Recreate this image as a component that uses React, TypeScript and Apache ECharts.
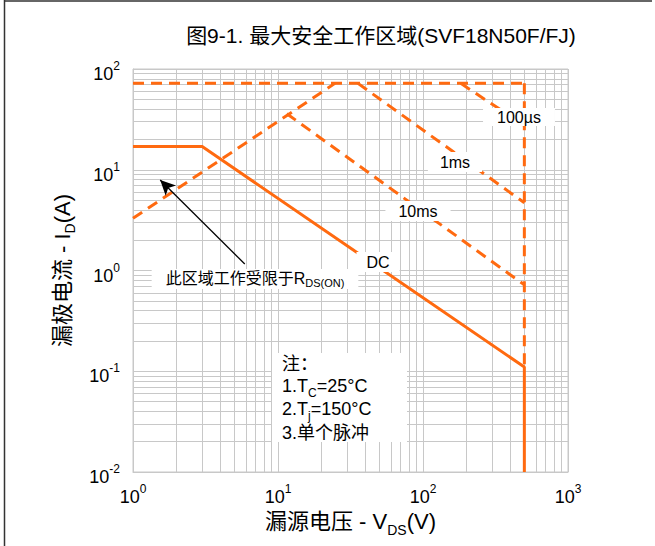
import React, { useEffect, useRef } from 'react';
import * as echarts from 'echarts';

// Minor grid positions (log scale 2..9 per decade)
const xMinorTicks = [2, 3, 4, 5, 6, 7, 8, 9, 20, 30, 40, 50, 60, 70, 80, 90, 200, 300, 400, 500, 600, 700, 800, 900];
const yMinorTicks = [
  0.02, 0.03, 0.04, 0.05, 0.06, 0.07, 0.08, 0.09,
  0.2, 0.3, 0.4, 0.5, 0.6, 0.7, 0.8, 0.9,
  2, 3, 4, 5, 6, 7, 8, 9,
  20, 30, 40, 50, 60, 70, 80, 90,
];

// Curves [Vds (V), Id (A)]
const dcLimit = [[1, 17], [3, 17], [500, 0.11], [500, 0.01]];
const vdsLimit = [[500, 72], [500, 0.11]];
const idmLimit = [[1, 72], [500, 72]];
const rdsLimit = [[1, 3.3], [24.7, 72]];
const pulse100us = [[182, 72], [500, 27.5]];
const pulse1ms = [[35.6, 72], [500, 4.7]];
const pulse10ms = [[11.5, 36], [500, 0.72]];

// Arrow pointing into the RDS(on)-limited region
const arrowFrom = [5.9, 1.16];
const arrowTo = [1.54, 7.9];

const ORANGE = '#FF6A10';
const GRID = '#c8c8c8';
const FONT = "'Liberation Sans', Arial, 'Noto Sans CJK SC', sans-serif";

const supLabel = (v: number) => {
  const e = Math.round(Math.log10(v));
  return `{b|10}{s|${e}}`;
};

const supRich = {
  b: { fontSize: 18, lineHeight: 18, padding: [5, 0, 0, 0], verticalAlign: 'top', fontFamily: FONT, color: '#000' },
  s: { fontSize: 12, lineHeight: 12, verticalAlign: 'top', fontFamily: FONT, color: '#000' },
};

const nameRich = {
  b: { fontSize: 22, lineHeight: 24, verticalAlign: 'top', fontFamily: FONT, color: '#000' },
  sub: { fontSize: 14, lineHeight: 14, padding: [12, 0, 0, 0], verticalAlign: 'top', fontFamily: FONT, color: '#000' },
};

function dashed(name: string, data: number[][]) {
  return {
    name,
    type: 'line',
    data,
    showSymbol: false,
    symbol: 'none',
    z: 3,
    lineStyle: { color: ORANGE, width: 3, type: [11, 7] },
  };
}

export default function App() {
  const ref = useRef<HTMLDivElement>(null);
  useEffect(() => {
    if (!ref.current) return;
    const chart = echarts.init(ref.current, undefined, { renderer: 'svg' });
    const labelBox = (text: string, x: number, y: number, padH: number[], fontSize = 16) => ({
      type: 'text',
      z: 100,
      style: {
        text,
        x,
        y,
        align: 'center',
        verticalAlign: 'middle',
        fontSize,
        fontFamily: FONT,
        fill: '#000',
        backgroundColor: '#fff',
        padding: padH,
      },
    });
    const noteRich = {
      b: { fontSize: 18, lineHeight: 20, verticalAlign: 'top', fontFamily: FONT, color: '#000' },
      sub: { fontSize: 12, lineHeight: 12, padding: [10, 0, 0, 0], verticalAlign: 'top', fontFamily: FONT, color: '#000' },
    };
    const option: any = {
      animation: false,
      backgroundColor: '#fff',
      grid: { left: 133, top: 69, width: 435, height: 403, show: true, borderColor: GRID, borderWidth: 1 },
      xAxis: {
        type: 'log',
        logBase: 10,
        min: 1,
        max: 1000,
        name: '{b|漏源电压 - V}{sub|DS}{b|(V)}',
        nameLocation: 'middle',
        nameGap: 37,
        nameTextStyle: { rich: nameRich },
        axisLine: { show: true, lineStyle: { color: GRID } },
        axisTick: { show: false },
        splitLine: { show: true, lineStyle: { color: GRID, width: 1 } },
        axisLabel: { formatter: supLabel, rich: supRich, margin: 11, showMinLabel: true, showMaxLabel: true },
      },
      yAxis: {
        type: 'log',
        logBase: 10,
        min: 0.01,
        max: 100,
        name: '{b|漏极电流 - I}{sub|D}{b|(A)}',
        nameLocation: 'middle',
        nameGap: 58,
        nameTextStyle: { rich: nameRich },
        axisLine: { show: true, lineStyle: { color: GRID } },
        axisTick: { show: false },
        splitLine: { show: true, lineStyle: { color: GRID, width: 1 } },
        axisLabel: { formatter: supLabel, rich: supRich, margin: 13, showMinLabel: true, showMaxLabel: true },
      },
      series: [
        {
          name: 'minorGrid',
          type: 'line',
          data: [],
          z: 1,
          silent: true,
          markLine: {
            z: 1,
            silent: true,
            symbol: 'none',
            label: { show: false },
            lineStyle: { color: GRID, width: 1, type: 'solid' },
            data: [
              ...xMinorTicks.map((v) => ({ xAxis: v })),
              ...yMinorTicks.map((v) => ({ yAxis: v })),
            ],
          },
        },
        dashed('Idm', idmLimit),
        dashed('Vds', vdsLimit),
        dashed('Rds', rdsLimit),
        dashed('100us', pulse100us),
        dashed('1ms', pulse1ms),
        dashed('10ms', pulse10ms),
        {
          name: 'DC',
          type: 'line',
          data: dcLimit,
          showSymbol: false,
          symbol: 'none',
          z: 4,
          lineStyle: { color: ORANGE, width: 3, type: 'solid' },
        },
        {
          name: 'arrow',
          type: 'line',
          data: [],
          z: 5,
          markLine: {
            z: 6,
            silent: true,
            symbol: ['none', 'arrow'],
            symbolSize: [11, 15],
            label: { show: false },
            lineStyle: { color: '#000', width: 1.3, type: 'solid' },
            itemStyle: { color: '#000' },
            data: [[{ coord: arrowFrom }, { coord: arrowTo }]],
          },
        },
      ],
      graphic: [
        { type: 'line', z: 100, shape: { x1: 4.5, y1: 0, x2: 4.5, y2: 546 }, style: { stroke: '#333', lineWidth: 1.5 } },
        { type: 'line', z: 100, shape: { x1: 4, y1: 1, x2: 652, y2: 1 }, style: { stroke: '#333', lineWidth: 1.5 } },
        {
          type: 'text',
          z: 100,
          style: {
            text: '图9-1. 最大安全工作区域(SVF18N50F/FJ)',
            x: 381,
            y: 35,
            align: 'center',
            verticalAlign: 'middle',
            fontSize: 21,
            fontFamily: FONT,
            fill: '#000',
          },
        },
        labelBox('100µs', 519, 117, [1, 14, 1, 14]),
        labelBox('1ms', 455, 162, [2, 12, 2, 12]),
        labelBox('10ms', 418, 211, [2, 13, 2, 13]),
        labelBox('DC', 378, 262, [2, 10, 2, 10]),
        {
          type: 'text',
          z: 100,
          style: {
            text: '{c|此区域工作受限于R}{sub|DS(ON)}',
            x: 255,
            y: 279,
            align: 'center',
            verticalAlign: 'middle',
            backgroundColor: '#fff',
            padding: [1, 14, 1, 14],
            rich: {
              c: { fontSize: 16, lineHeight: 18, verticalAlign: 'top', fontFamily: FONT, color: '#000' },
              sub: { fontSize: 11, lineHeight: 11, padding: [8, 0, 0, 0], verticalAlign: 'top', fontFamily: FONT, color: '#000' },
            },
          },
        },
        { type: 'rect', z: 100, shape: { x: 272, y: 353, width: 135, height: 89 }, style: { fill: '#fff' } },
        {
          type: 'text',
          z: 101,
          style: { text: '注：', x: 282, y: 364, verticalAlign: 'middle', fontSize: 18, fontFamily: FONT, fill: '#000' },
        },
        {
          type: 'text',
          z: 101,
          style: { text: '{b|1.T}{sub|C}{b|=25°C}', x: 282, y: 387, verticalAlign: 'middle', rich: noteRich },
        },
        {
          type: 'text',
          z: 101,
          style: { text: '{b|2.T}{sub|j}{b|=150°C}', x: 282, y: 410, verticalAlign: 'middle', rich: noteRich },
        },
        {
          type: 'text',
          z: 101,
          style: { text: '3.单个脉冲', x: 282, y: 433, verticalAlign: 'middle', fontSize: 18, fontFamily: FONT, fill: '#000' },
        },
      ],
    };
    chart.setOption(option);
    return () => chart.dispose();
  }, []);
  return <div ref={ref} style={{ position: 'absolute', left: 0, top: 0, width: 655, height: 546 }} />;
}
